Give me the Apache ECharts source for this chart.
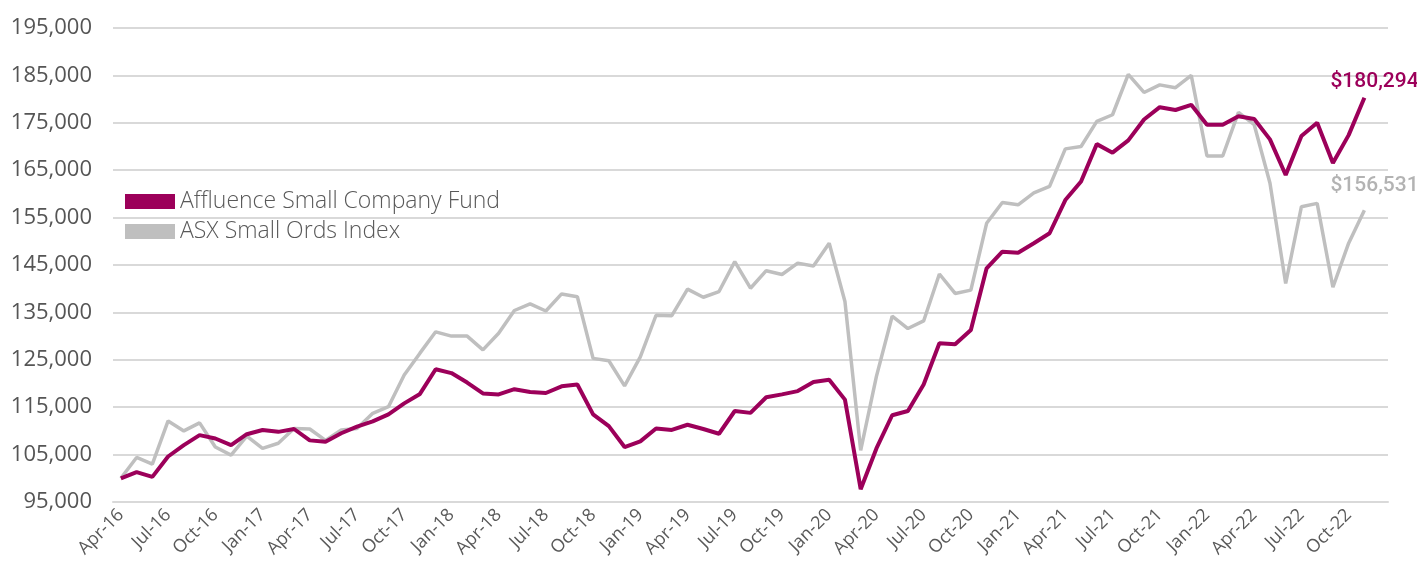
<!DOCTYPE html>
<html>
<head>
<meta charset="utf-8">
<script src="https://cdn.jsdelivr.net/npm/echarts@6/dist/echarts.min.js"></script>
<style>
  html, body { margin: 0; padding: 0; background: #fff; }
  #chart { width: 1417px; height: 579px; }
</style>
</head>
<body>
<div id="chart"></div>
<script>
// month labels, Apr-16 .. Dec-22
const months = ['Apr-16','May-16','Jun-16','Jul-16','Aug-16','Sep-16','Oct-16','Nov-16','Dec-16',
  'Jan-17','Feb-17','Mar-17','Apr-17','May-17','Jun-17','Jul-17','Aug-17','Sep-17','Oct-17','Nov-17','Dec-17',
  'Jan-18','Feb-18','Mar-18','Apr-18','May-18','Jun-18','Jul-18','Aug-18','Sep-18','Oct-18','Nov-18','Dec-18',
  'Jan-19','Feb-19','Mar-19','Apr-19','May-19','Jun-19','Jul-19','Aug-19','Sep-19','Oct-19','Nov-19','Dec-19',
  'Jan-20','Feb-20','Mar-20','Apr-20','May-20','Jun-20','Jul-20','Aug-20','Sep-20','Oct-20','Nov-20','Dec-20',
  'Jan-21','Feb-21','Mar-21','Apr-21','May-21','Jun-21','Jul-21','Aug-21','Sep-21','Oct-21','Nov-21','Dec-21',
  'Jan-22','Feb-22','Mar-22','Apr-22','May-22','Jun-22','Jul-22','Aug-22','Sep-22','Oct-22','Nov-22','Dec-22']

// Affluence Small Company Fund (growth of $100,000)
const fundValues = [100000, 101300, 100300, 104600, 107000, 109100, 108400, 107000, 109300,
  110200, 109800, 110400, 108000, 107700, 109500, 110900, 112000, 113500, 115800, 117800, 123000,
  122200, 120200, 117900, 117700, 118800, 118200, 118000, 119400, 119800, 113500, 111000, 106600,
  107800, 110500, 110200, 111300, 110400, 109400, 114200, 113800, 117100, 117700, 118400, 120300,
  120800, 116600, 97700, 106300, 113300, 114200, 119800, 128500, 128300, 131300, 144300, 147800,
  147600, 149600, 151700, 158700, 162600, 170500, 168700, 171300, 175700, 178300, 177700, 178800,
  174600, 174600, 176400, 175800, 171500, 164000, 172200, 175000, 166500, 172400, 180294]

// ASX Small Ords Index
const indexValues = [100000, 104400, 103000, 112100, 110000, 111700, 106600, 104900, 108900,
  106300, 107400, 110500, 110400, 108000, 110200, 110500, 113700, 115100, 121800, 126400, 130900,
  130000, 130000, 127100, 130600, 135400, 136800, 135300, 138900, 138300, 125300, 124800, 119500,
  125600, 134400, 134300, 139900, 138200, 139400, 145700, 140100, 143800, 143000, 145400, 144800,
  149600, 137300, 105900, 121500, 134200, 131600, 133200, 143100, 139000, 139700, 153800, 158200,
  157700, 160200, 161600, 169500, 170000, 175300, 176700, 185200, 181400, 183000, 182400, 185000,
  168000, 168000, 177200, 174600, 162300, 141100, 157300, 158000, 140300, 149600, 156531]

const seriesNames = ['Affluence Small Company Fund', 'ASX Small Ords Index']
const purple = '#9c005a'
const grey = '#bfbfbf'

const fmt = v => v.toLocaleString('en-US')

// "$" label sitting above the last point of a line
function endLabel(color, dy) {
  return {
    show: true,
    offset: [-42, dy],
    color: color,
    fontFamily: 'Roboto',
    fontWeight: 500,
    fontSize: 21,
    formatter: p => '$' + fmt(p.value)
  }
}

const chart = echarts.init(document.getElementById('chart'))
chart.setOption({
  animation: false,
  grid: { left: 113, right: 29, top: 28, bottom: 77 },
  legend: {
    data: seriesNames,
    orient: 'vertical',
    left: 125,
    top: 190,
    padding: 0,
    icon: 'rect',
    itemWidth: 50,
    itemHeight: 15,
    itemGap: 7,
    textStyle: { color: '#595959', fontFamily: 'Open Sans', fontWeight: 300, fontSize: 23 }
  },
  xAxis: {
    type: 'category',
    data: months,
    boundaryGap: true,
    axisLine: { lineStyle: { color: '#d9d9d9', width: 2 } },
    axisTick: { interval: 2, length: 6, lineStyle: { color: '#d9d9d9', width: 2 } },
    axisLabel: {
      interval: 2,
      rotate: 45,
      margin: 10,
      color: '#595959',
      fontFamily: 'Open Sans',
      fontSize: 18
    }
  },
  yAxis: {
    type: 'value',
    min: 95000,
    max: 195000,
    interval: 10000,
    axisLine: { show: false },
    axisTick: { show: false },
    splitLine: { lineStyle: { color: '#d9d9d9', width: 2 } },
    axisLabel: {
      margin: 21,
      color: '#555555',
      fontFamily: 'Open Sans',
      fontSize: 22,
      formatter: v => fmt(v)
    }
  },
  series: [
    {
      name: seriesNames[1],
      type: 'line',
      data: indexValues,
      symbol: 'none',
      lineStyle: { color: grey, width: 3.5 },
      itemStyle: { color: grey },
      endLabel: endLabel('#b3b3b3', -25),
      z: 2
    },
    {
      name: seriesNames[0],
      type: 'line',
      data: fundValues,
      symbol: 'none',
      lineStyle: { color: purple, width: 4 },
      itemStyle: { color: purple },
      endLabel: endLabel(purple, -16),
      z: 3
    }
  ]
})
</script>
</body>
</html>
